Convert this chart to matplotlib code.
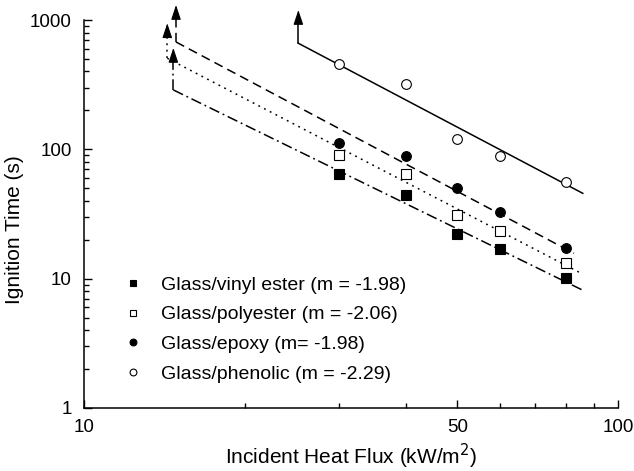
import matplotlib
matplotlib.use('Agg')
import matplotlib.pyplot as plt
from matplotlib.ticker import NullFormatter, FixedLocator

plt.rcParams['font.family'] = ['Liberation Sans', 'DejaVu Sans']

# measured data (heat flux kW/m2, ignition time s)
flux = [30, 40, 50, 60, 80]
vinyl = [65, 44, 22, 17, 10.2]
polyester = [91, 65, 31, 23.4, 13.1]
epoxy = [111, 89, 50, 33, 17.3]
phenolic = [460, 318, 121, 89, 56]

labels = ['Glass/vinyl ester (m = -1.98)', 'Glass/polyester (m = -2.06)',
          'Glass/epoxy (m= -1.98)', 'Glass/phenolic (m = -2.29)']

# fit lines: start/end x, start/end y, arrow tip y
fit_x = [[14.70, 86.1], [14.32, 84.6], [14.87, 82.7], [25.2, 85.9]]
fit_y = [[288, 8.1], [506, 11.2], [676, 15.7], [661, 45.7]]
tip_y = [608, 944, 1306, 1195]

styles = [(0, (7, 2.5, 1.2, 2.5)), (0, (1.2, 3)), (0, (6, 3.5)), '-']

fig = plt.figure(figsize=(6.34, 4.71), dpi=100)
ax = fig.add_axes([0.1325, 0.1338, 0.8423, 0.8237])

series = [vinyl, polyester, epoxy, phenolic]
mk = [('s', 'k'), ('s', 'w'), ('o', 'k'), ('o', 'w')]
for i, y in enumerate(series):
    m, fc = mk[i]
    ax.plot(flux, y, m, ls='none', mfc=fc, mec='k', mew=0.8,
            ms=7 if m == 'o' else 6.5, label=labels[i], zorder=3)

for i in range(4):
    x0, x1 = fit_x[i]
    ax.plot(fit_x[i], fit_y[i], color='k', lw=1.1, ls=styles[i], zorder=2)
    ax.plot([x0, x0], [fit_y[i][0], tip_y[i] * 0.9], color='k', lw=1.1,
            ls=styles[i], clip_on=False, zorder=2)
    ax.annotate('', xy=(x0, tip_y[i]), xytext=(x0, tip_y[i] * 0.88),
                arrowprops=dict(arrowstyle='-|>,head_length=0.9,head_width=0.3',
                                color='k', lw=0.8, shrinkA=0, shrinkB=0),
                annotation_clip=False)

ax.set_xscale('log')
ax.set_yscale('log')
ax.set_xlim(10, 100)
ax.set_ylim(1, 1000)

ax.xaxis.set_major_locator(FixedLocator([10, 50, 100]))
ax.xaxis.set_minor_locator(FixedLocator([20, 30, 40, 60, 70, 80, 90]))
ax.set_xticklabels(['10', '50', '100'])
ax.xaxis.set_minor_formatter(NullFormatter())
ax.set_yticks([1, 10, 100, 1000])
ax.set_yticklabels(['1', '10', '100', '1000'])
ax.yaxis.set_minor_formatter(NullFormatter())

for s in ['top', 'right']:
    ax.spines[s].set_visible(False)
for s in ['left', 'bottom']:
    ax.spines[s].set_linewidth(1.1)
ax.tick_params(which='both', direction='in', labelsize=13.5, width=1)
ax.tick_params(which='major', length=6)
ax.tick_params(which='minor', length=3.5)
ax.tick_params(axis='x', pad=8)
ax.tick_params(axis='y', pad=9)

ax.set_xlabel('Incident Heat Flux (kW/m$^2$)', fontsize=15, labelpad=4)
ax.set_ylabel('Ignition Time (s)', fontsize=15)
ax.yaxis.set_label_coords(-0.112, 0.46)

ax.legend(loc='lower left', bbox_to_anchor=(0.045, 0.02), frameon=False,
          fontsize=14, markerscale=0.7, handlelength=0.8, handletextpad=1.0,
          labelspacing=0.62)

fig.savefig('out.png', dpi=100)
